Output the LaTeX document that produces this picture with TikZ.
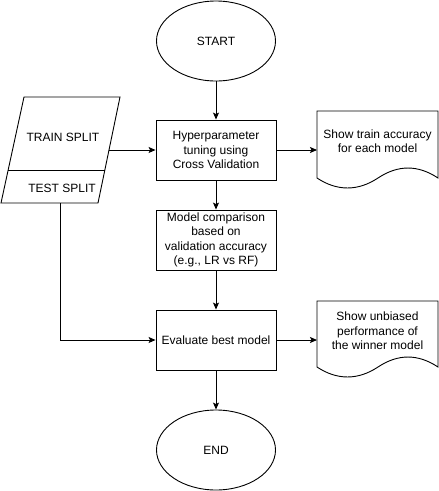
\documentclass[tikz,border=0pt]{standalone}
\usepackage{fontspec}
\setmainfont{Liberation Sans}
\usetikzlibrary{shapes.geometric,arrows.meta}
\begin{document}
\begin{tikzpicture}[x=1pt,y=-1pt,
  every node/.style={font=\fontsize{12}{14.5}\selectfont, align=center, inner sep=0pt},
  line/.style={draw=black, line width=0.9pt},
  arr/.style={line, -{Stealth[length=7pt,width=6pt,inset=1.5pt]}},
  term/.style={ellipse, line, minimum width=119pt, minimum height=80pt},
  proc/.style={rectangle, line, minimum width=120pt, minimum height=60pt},
  docline/.style={line, line join=miter}]
\useasboundingbox (0,0) rectangle (439,491);
\fill[white] (0,0) rectangle (439,491);

% terminals
\node[term] (start) at (216,41) {START};
\node[term] (end) at (216,450) {END};

% processes
\node[proc] (tune) at (216,150) {Hyperparameter\\tuning using\\Cross Validation};
\node[proc] (cmp) at (216,240) {Model comparison\\based on\\validation accuracy\\(e.g., LR vs RF)};
\node[proc] (eval) at (216,340) {Evaluate best model};

% data split (parallelogram)
\draw[line, line join=miter] (24,97) -- (120,97) -- (98,203) -- (1,203) -- cycle;
\draw[line] (8.2,170) -- (105.2,170);
\node (train) at (63,137) {TRAIN SPLIT};
\node (test) at (62,188) {TEST SPLIT};
\coordinate (sr) at (109,150);
\coordinate (sb) at (60,203);

% documents
\draw[docline] (317,111) -- (438,111) -- (438,178)
  .. controls (418,164.7) and (398,164.7) .. (378,178)
  .. controls (358,191.3) and (337,191.3) .. (317,178) -- cycle;
\node (doc1) at (377.5,141) {Show train accuracy\\for each model};
\coordinate (d1) at (317,150);

\draw[docline] (317,301) -- (438,301) -- (438,367)
  .. controls (418,353.7) and (398,353.7) .. (378,367)
  .. controls (358,380.3) and (337,380.3) .. (317,367) -- cycle;
\node (doc2) at (377.5,331) {Show unbiased\\performance of\\the winner model};
\coordinate (d2) at (317,340);

% connectors
\draw[arr] (start) -- (tune);
\draw[arr] (sr) -- (tune.west);
\draw[arr] (tune) -- (d1);
\draw[arr] (tune) -- (cmp);
\draw[arr] (cmp) -- (eval);
\draw[arr] (sb) |- (eval.west);
\draw[arr] (eval) -- (d2);
\draw[arr] (eval) -- (end);
\end{tikzpicture}
\end{document}
